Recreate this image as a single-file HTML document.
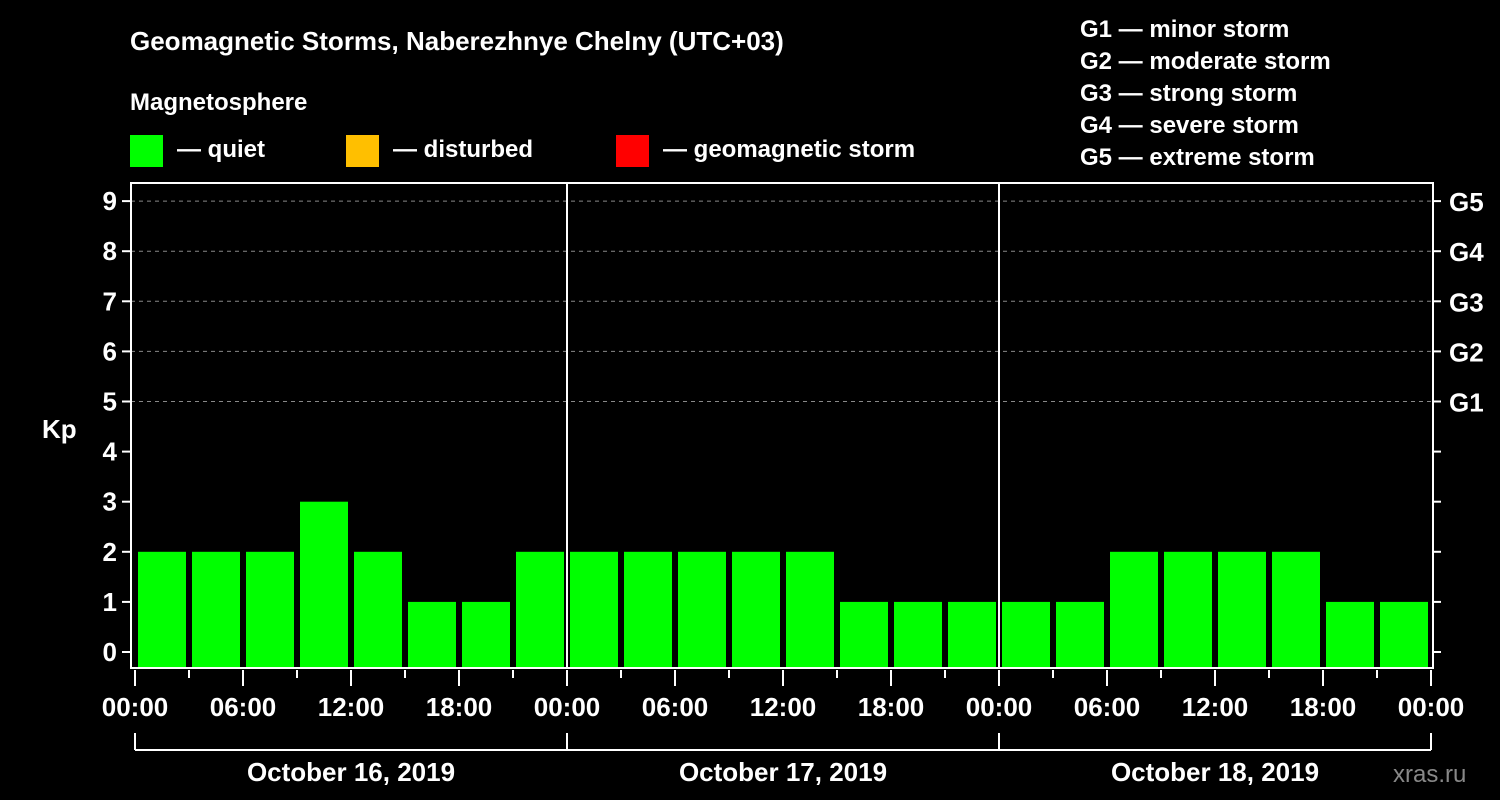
<!DOCTYPE html>
<html><head><meta charset="utf-8"><style>
body{margin:0;background:#000;}
svg{display:block;font-family:"Liberation Sans",Arial,sans-serif;font-weight:bold;}
</style></head><body>
<svg id="c" width="1500" height="800" viewBox="0 0 1500 800">
<rect width="1500" height="800" fill="#000"/>
<text x="130" y="50" fill="#fff" font-size="26">Geomagnetic Storms, Naberezhnye Chelny (UTC+03)</text>
<text x="130" y="110" fill="#fff" font-size="24">Magnetosphere</text>
<g>
<rect x="130" y="135" width="33" height="32" fill="#00ff00"/>
<text x="177" y="157" fill="#fff" font-size="24">— quiet</text>
<rect x="346" y="135" width="33" height="32" fill="#ffbf00"/>
<text x="393" y="157" fill="#fff" font-size="24">— disturbed</text>
<rect x="616" y="135" width="33" height="32" fill="#ff0000"/>
<text x="663" y="157" fill="#fff" font-size="24">— geomagnetic storm</text>
</g>
<g fill="#fff" font-size="24">
<text x="1080" y="37">G1 — minor storm</text>
<text x="1080" y="69">G2 — moderate storm</text>
<text x="1080" y="101">G3 — strong storm</text>
<text x="1080" y="133">G4 — severe storm</text>
<text x="1080" y="165">G5 — extreme storm</text>
</g>
<text x="42" y="438" fill="#fff" font-size="26">Kp</text>
<text x="1393" y="782" fill="#888" font-size="24" font-weight="normal">xras.ru</text>
<g id="plot"></g>
</svg>
<script>
const kpValues = [2,2,2,3,2,1,1,2, 2,2,2,2,2,1,1,1, 1,1,2,2,2,2,1,1];
const dayLabels = ["October 16, 2019","October 17, 2019","October 18, 2019"];
const yTicks = [0,1,2,3,4,5,6,7,8,9];
const gLabels = ["G1","G2","G3","G4","G5"];
const timeLabels = ["00:00","06:00","12:00","18:00"];

const NS="http://www.w3.org/2000/svg";
const g=document.getElementById('plot');
const L=131,R=1433,T=183,B=668,X0=135,DAY=432;
const y=v=>652-v*50.1;
const x=h=>X0+h*DAY/24;
function mk(tag,at,parent){const e=document.createElementNS(NS,tag);for(const k in at)e.setAttribute(k,at[k]);(parent||g).appendChild(e);return e;}
// grid
for(let v=5;v<=9;v++){const e=mk('line',{x1:L,x2:R,y1:y(v),y2:y(v),stroke:'#888','stroke-dasharray':'4,4','stroke-width':1});

}
// bars
kpValues.forEach((v,i)=>{const c=v>=5?'#ff0000':(v>=4?'#ffbf00':'#00ff00');
const r=mk('rect',{x:x(i*3)+3,y:y(v),width:48,height:B-y(v),fill:c});

});
// frame
const f=mk('rect',{x:L,y:T,width:R-L,height:B-T,fill:'none',stroke:'#fff','stroke-width':2});


for(let d=1;d<3;d++){const e=mk('line',{x1:x(d*24),x2:x(d*24),y1:T,y2:B,stroke:'#fff','stroke-width':2});

}
// y ticks
yTicks.forEach(v=>{mk('line',{x1:L-9,x2:L,y1:y(v),y2:y(v),stroke:'#fff','stroke-width':2});
mk('line',{x1:R,x2:R+8,y1:y(v),y2:y(v),stroke:'#fff','stroke-width':2});
const t=mk('text',{x:L-14,y:y(v)+9,fill:'#fff','font-size':26,'text-anchor':'end'});t.textContent=v;

});
gLabels.forEach((s,i)=>{const t=mk('text',{x:1449,y:y(5+i)+10,fill:'#fff','font-size':26});t.textContent=s;

});
// x ticks
for(let h=0;h<=72;h+=3){const major=h%6===0;mk('line',{x1:x(h),x2:x(h),y1:B+2,y2:major?B+18:B+10,stroke:'#fff','stroke-width':2});
if(major){const t=mk('text',{x:x(h),y:716,fill:'#fff','font-size':26,'text-anchor':'middle'});t.textContent=timeLabels[(h/6)%4];

}}
// day brackets
mk('line',{x1:x(0),x2:x(72),y1:750,y2:750,stroke:'#fff','stroke-width':2});
for(let d=0;d<=3;d++)mk('line',{x1:x(d*24),x2:x(d*24),y1:733,y2:750,stroke:'#fff','stroke-width':2});
dayLabels.forEach((s,d)=>{const t=mk('text',{x:x(d*24+12),y:781,fill:'#fff','font-size':26,'text-anchor':'middle'});t.textContent=s;

});
</script>
</body></html>
